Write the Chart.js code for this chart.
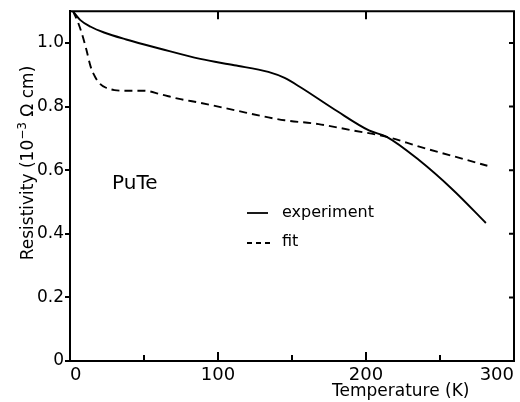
<!DOCTYPE html>
<html>
<head>
<meta charset="utf-8">
<script src="https://cdn.jsdelivr.net/npm/chart.js@4"></script>
<style>body{margin:0;background:#fff}</style>
</head>
<body>
<canvas id="resistivity" width="520" height="402"></canvas>
<script>
// values
const expT = [2, 7, 14, 23, 38, 61, 88, 111, 134, 145, 156, 179, 202, 214, 236, 259, 281];
const expR = [1.10, 1.072, 1.051, 1.033, 1.011, 0.982, 0.950, 0.930, 0.909, 0.890, 0.860, 0.790, 0.725, 0.705, 0.631, 0.537, 0.434];
const fitT = [2, 5, 8, 11, 14, 17, 20, 24, 30, 38, 50, 61, 73, 88, 111, 134, 145, 168, 190, 214, 236, 259, 282];
const fitR = [1.10, 1.07, 1.03, 0.98, 0.925, 0.893, 0.873, 0.860, 0.852, 0.850, 0.850, 0.839, 0.825, 0.812, 0.789, 0.766, 0.757, 0.745, 0.726, 0.705, 0.674, 0.644, 0.614];
const xLabels = [0, 100, 200, 300];
const xInnerTicks = [50, 100, 150, 200, 250];
const xTopTicks = [100, 200];
const yTicks = [0, 0.2, 0.4, 0.6, 0.8, 1.0];

Chart.defaults.font.family = "'DejaVu Sans', sans-serif";
Chart.defaults.color = "#000";

const toPoints = (xs, ys) => xs.map((t, i) => ({ x: t, y: ys[i] }));

// box frame, inward ticks, axis titles, label and legend
const frame = {
  id: "frame",
  afterDraw(chart) {
    const { ctx, chartArea: a, scales: { x, y } } = chart;
    ctx.save();
    ctx.strokeStyle = "#000";
    ctx.lineWidth = 2;
    ctx.beginPath();
    ctx.moveTo(a.left, a.top);
    ctx.lineTo(a.right, a.top);
    ctx.lineTo(a.right, a.bottom);
    xInnerTicks.forEach(t => {
      const px = x.getPixelForValue(t);
      ctx.moveTo(px, a.bottom);
      ctx.lineTo(px, a.bottom - (t % 100 === 0 ? 9 : 6));
    });
    xTopTicks.forEach(t => {
      const px = x.getPixelForValue(t);
      ctx.moveTo(px, a.top);
      ctx.lineTo(px, a.top + 8);
    });
    yTicks.slice(1).forEach(v => {
      const py = y.getPixelForValue(v);
      ctx.moveTo(a.right, py);
      ctx.lineTo(a.right - 5, py);
    });
    ctx.stroke();

    ctx.fillStyle = "#000";
    ctx.textBaseline = "alphabetic";
    ctx.textAlign = "left";
    ctx.font = "17px 'DejaVu Sans'";
    ctx.fillText("Temperature (K)", 332, 396);

    ctx.font = "20px 'DejaVu Sans'";
    ctx.textBaseline = "middle";
    ctx.fillText("PuTe", 112, 184);

    // legend
    ctx.font = "16px 'DejaVu Sans'";
    ctx.fillText("experiment", 282, 213);
    ctx.fillText("fit", 282, 242);
    ctx.lineWidth = 1.8;
    ctx.beginPath();
    ctx.moveTo(247, 213);
    ctx.lineTo(268, 213);
    ctx.stroke();
    ctx.setLineDash([5, 4]);
    ctx.beginPath();
    ctx.moveTo(247, 243);
    ctx.lineTo(270, 243);
    ctx.stroke();
    ctx.setLineDash([]);

    // y title with superscript
    ctx.translate(33, 163);
    ctx.rotate(-Math.PI / 2);
    ctx.textBaseline = "alphabetic";
    const big = "17px 'DejaVu Sans'", small = "12px 'DejaVu Sans'";
    const parts = [["Resistivity (10", big, 0], ["\u22123", small, -7], [" \u03a9 cm)", big, 0]];
    let total = 0;
    parts.forEach(p => { ctx.font = p[1]; total += ctx.measureText(p[0]).width; });
    let cx = -total / 2;
    parts.forEach(p => {
      ctx.font = p[1];
      ctx.fillText(p[0], cx, p[2]);
      cx += ctx.measureText(p[0]).width;
    });
    ctx.restore();
  }
};

new Chart(document.getElementById("resistivity"), {
  type: "line",
  data: {
    datasets: [
      {
        label: "experiment",
        data: toPoints(expT, expR),
        borderColor: "#000",
        borderWidth: 1.9,
        pointRadius: 0,
        cubicInterpolationMode: "monotone",
      },
      {
        label: "fit",
        data: toPoints(fitT, fitR),
        borderColor: "#000",
        borderWidth: 1.9,
        borderDash: [8, 5],
        pointRadius: 0,
        cubicInterpolationMode: "monotone",
      },
    ],
  },
  options: {
    responsive: false,
    animation: false,
    layout: { padding: { top: 10, right: 6, left: 0, bottom: 0 } },
    plugins: { legend: { display: false }, tooltip: { enabled: false } },
    scales: {
      x: {
        type: "linear",
        min: 0,
        max: 300,
        afterBuildTicks: s => { s.ticks = xLabels.map(v => ({ value: v })); },
        afterFit: s => { s.height = 41; },
        grid: { display: false, drawTicks: false },
        border: { color: "#000", width: 2 },
        ticks: { align: "inner", padding: 4, maxRotation: 0, autoSkip: false, font: { size: 18 } },
      },
      y: {
        min: 0,
        max: 1.1,
        afterBuildTicks: s => { s.ticks = yTicks.map(v => ({ value: v })); },
        afterFit: s => { s.width = 70; },
        grid: { drawOnChartArea: false, drawTicks: true, tickLength: 5, color: "#000", lineWidth: 2 },
        border: { color: "#000", width: 2 },
        ticks: { padding: 1, font: { size: 17 }, callback: v => (v === 0 ? "0" : v.toFixed(1)) },
      },
    },
  },
  plugins: [frame],
});
</script>
</body>
</html>
